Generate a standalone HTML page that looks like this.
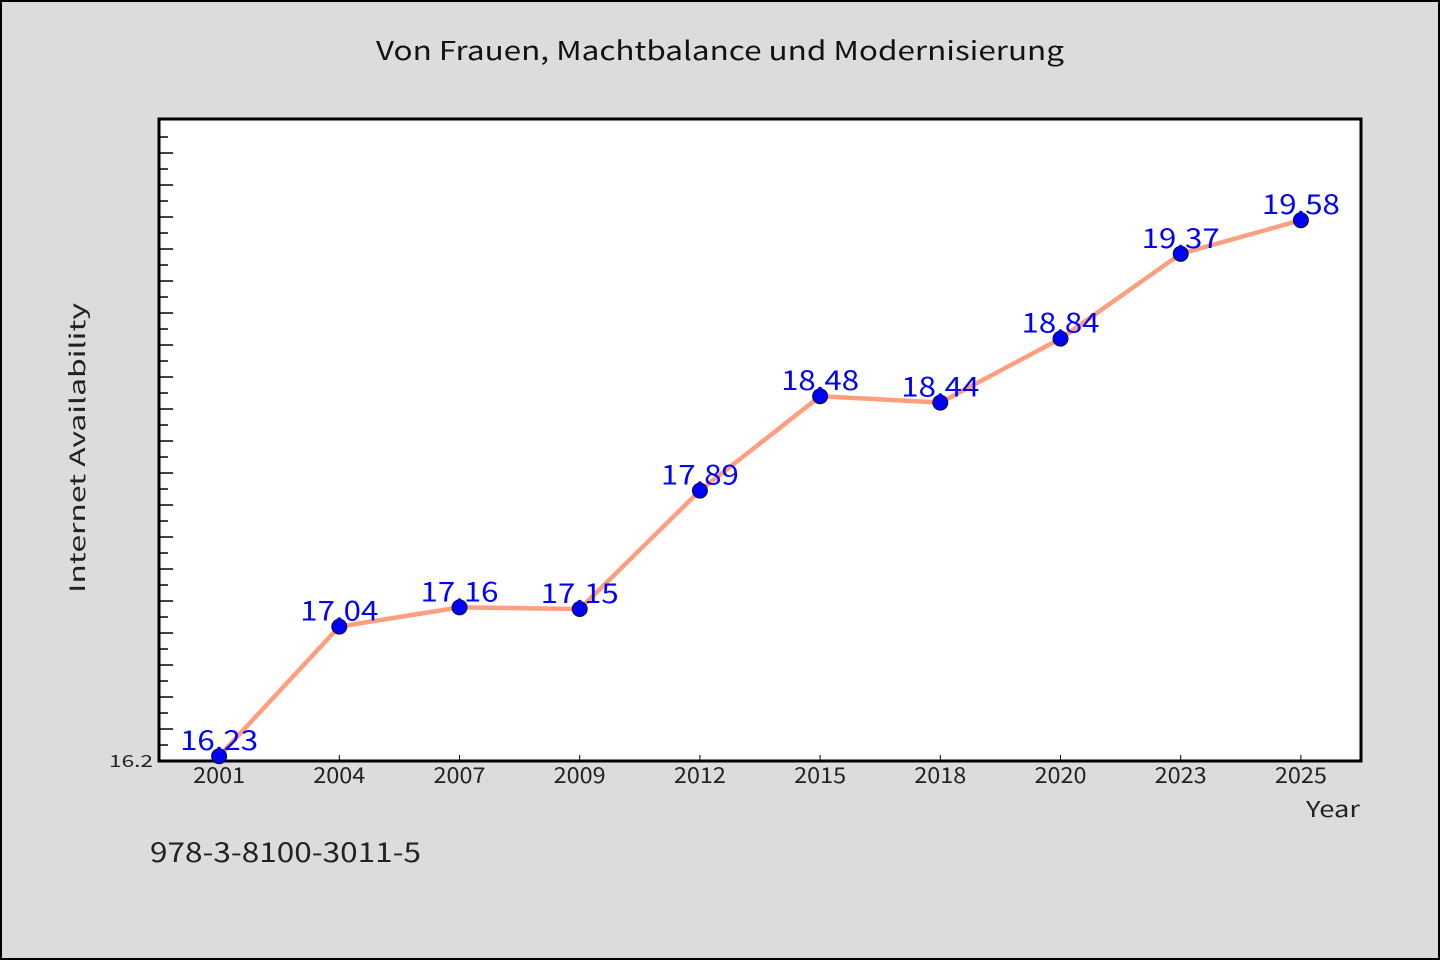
<!DOCTYPE html>
<html><head><meta charset="utf-8">
<style>
html,body{margin:0;padding:0;background:#dcdcdc;}
svg{display:block;font-family:"WenQuanYi Zen Hei","Noto Sans CJK SC","Liberation Sans",sans-serif;}
</style></head>
<body>
<svg id="chart" width="1440" height="960" viewBox="0 0 1440 960">
<rect x="1" y="1" width="1438" height="958" fill="#dcdcdc" stroke="#000" stroke-width="2"/>
<text x="720" y="60" text-anchor="middle" font-size="26" fill="#111" textLength="688" lengthAdjust="spacingAndGlyphs">Von Frauen, Machtbalance und Modernisierung</text>
<rect x="159" y="119" width="1202" height="642" fill="#fff" stroke="#000" stroke-width="3"/>
<g id="ticks"></g>
<text x="153" y="767" text-anchor="end" font-size="17" fill="#222" textLength="44" lengthAdjust="spacingAndGlyphs">16.2</text>
<text transform="translate(85,448) rotate(-90)" text-anchor="middle" font-size="21" fill="#222" textLength="290" lengthAdjust="spacingAndGlyphs">Internet Availability</text>
<text x="1360" y="817" text-anchor="end" font-size="22" fill="#222" textLength="54" lengthAdjust="spacingAndGlyphs">Year</text>
<text x="150" y="862" font-size="27" fill="#222" textLength="271" lengthAdjust="spacingAndGlyphs">978-3-8100-3011-5</text>
<g id="xaxis"></g>
<g id="series"></g>
</svg>
<script>
const categories = ["2001","2004","2007","2009","2012","2015","2018","2020","2023","2025"];
const values = [16.23,17.04,17.16,17.15,17.89,18.48,18.44,18.84,19.37,19.58];
const labels = ["16.23","17.04","17.16","17.15","17.89","18.48","18.44","18.84","19.37","19.58"];
const yMin = 16.2, yMax = 20.2125;
const L=159,R=1361,T=119,B=761;
const ns="http://www.w3.org/2000/svg";
const band=(R-L)/categories.length;
function x(i){return L+band*(i+0.5);}
function y(v){return B-(v-yMin)/(yMax-yMin)*(B-T);}
function mk(tag,attrs,parent){const e=document.createElementNS(ns,tag);for(const k in attrs)e.setAttribute(k,attrs[k]);parent.appendChild(e);return e;}
const tg=document.getElementById('ticks');
for(let k=1;;k++){const v=yMin+k*0.1;const yy=y(v);if(yy<T+5)break;
 const t=mk('line',{x1:L,x2:L+(k%2===0?14:9),y1:yy,y2:yy,stroke:'#000','stroke-width':1.5},tg);
 
 }
const xg=document.getElementById('xaxis');
categories.forEach((c,i)=>{
 const t=mk('line',{x1:x(i),x2:x(i),y1:B,y2:B-6,stroke:'#000','stroke-width':1},xg);
 
 
 const lb=mk('text',{x:x(i),y:B+22,'text-anchor':'middle','font-size':22,fill:'#222',textLength:52,lengthAdjust:'spacingAndGlyphs'},xg);
 lb.textContent=c;
 
 
});
const sg=document.getElementById('series');
const line=mk('polyline',{points:values.map((v,i)=>x(i)+','+y(v)).join(' '),fill:'none',stroke:'#ff9f7f','stroke-width':4.5,'stroke-linejoin':'round'},sg);


values.forEach((v,i)=>{
 const c=mk('circle',{cx:x(i),cy:y(v),r:7.5,fill:'#0000ff',stroke:'#111','stroke-width':1},sg);
 
 
 const t=mk('text',{x:x(i),y:y(v)-6,'text-anchor':'middle','font-size':27,fill:'#0000ff',textLength:78,lengthAdjust:'spacingAndGlyphs'},sg);
 t.textContent=labels[i];
 
 
});
</script>
</body></html>
